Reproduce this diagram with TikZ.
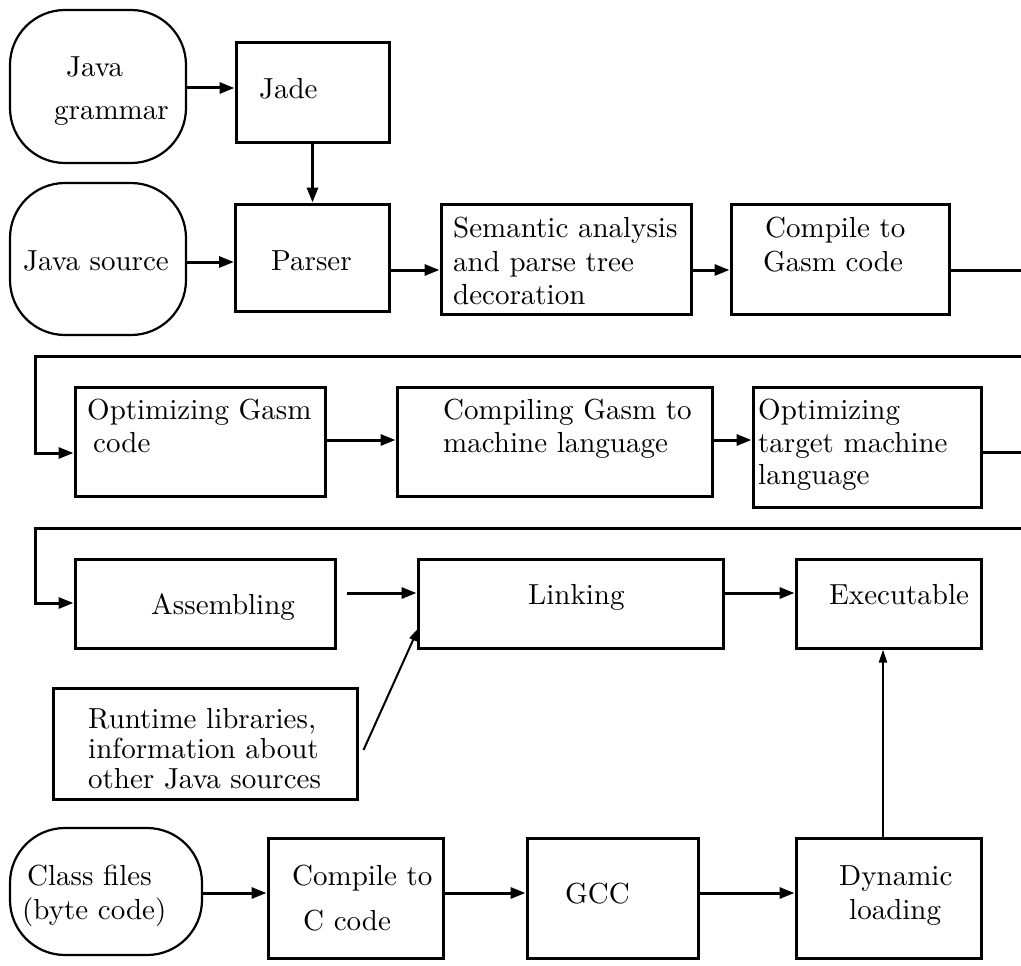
\documentclass[tikz,border=0pt]{standalone}
\usepackage{fontspec}
\setmainfont{lmroman10-regular}[Extension=.otf]
\usetikzlibrary{arrows.meta}
\begin{document}
\begin{tikzpicture}[x=1pt,y=-1pt,
  box/.style={draw, line width=3pt, inner sep=0pt},
  rbox/.style={draw, line width=2.2pt, rounded corners=55pt, inner sep=0pt},
  conn/.style={line width=3pt},
  arr/.style={line width=3pt, -{Triangle[length=15pt,width=11pt]}},
  thinarr/.style={line width=2pt, -{Triangle[length=13pt,width=8pt]}},
  txt/.style={anchor=base west, inner sep=0pt, font=\fontsize{29}{33.5}\selectfont}]
\useasboundingbox (0,0) rectangle (1021,966);
% boxes
\node[rbox, minimum width=176, minimum height=153] (jg) at (98,86.5) {};
\node[box, minimum width=153, minimum height=99] (jade) at (312.5,92.5) {};
\node[rbox, minimum width=176, minimum height=152] (js) at (98,259) {};
\node[box, minimum width=154, minimum height=107] (parser) at (312.5,257.5) {};
\node[box, minimum width=250, minimum height=110] (sem) at (566,259) {};
\node[box, minimum width=218, minimum height=110] (cgasm) at (840,259) {};
\node[box, minimum width=250, minimum height=109] (ogasm) at (200,441.5) {};
\node[box, minimum width=315, minimum height=109] (cgml) at (554.5,441.5) {};
\node[box, minimum width=228, minimum height=120] (otml) at (867,447) {};
\node[box, minimum width=260, minimum height=89] (asm) at (205,603.5) {};
\node[box, minimum width=305, minimum height=89] (link) at (570.5,603.5) {};
\node[box, minimum width=185, minimum height=89] (exe) at (888.5,603.5) {};
\node[box, minimum width=304, minimum height=111] (rt) at (205,743.5) {};
\node[rbox, minimum width=192, minimum height=127] (cf) at (106,891.5) {};
\node[box, minimum width=175, minimum height=120] (cc) at (355.5,898) {};
\node[box, minimum width=171, minimum height=120] (gcc) at (612.5,898) {};
\node[box, minimum width=185, minimum height=120] (dyn) at (888.5,898) {};
% texts
\node[txt] (t1) at (66,77) {Java};
\node[txt] (t2) at (54,119) {grammar};
\node[txt] (t3) at (259,99) {Jade};
\node[txt] (t4) at (23,270) {Java source};
\node[txt] (t5) at (271,270) {Parser};
\node[txt] (t6) at (453,237) {Semantic analysis};
\node[txt] (t7) at (453,271) {and parse tree};
\node[txt] (t8) at (453,304) {decoration};
\node[txt] (t9) at (765,237) {Compile to};
\node[txt] (t10) at (763,271) {Gasm code};
\node[txt] (t11) at (87,419) {Optimizing Gasm};
\node[txt] (t12) at (93,452) {code};
\node[txt] (t13) at (443,419) {Compiling Gasm to};
\node[txt] (t14) at (443,452) {machine language};
\node[txt] (t15) at (758,419) {Optimizing};
\node[txt] (t16) at (758,452) {target machine};
\node[txt] (t17) at (758,484) {language};
\node[txt] (t18) at (151,614) {Assembling};
\node[txt] (t19) at (528,604) {Linking};
\node[txt] (t20) at (829,604) {Executable};
\node[txt] (t21) at (88,728) {Runtime libraries,};
\node[txt] (t22) at (88,758) {information about};
\node[txt] (t23) at (88,788) {other Java sources};
\node[txt] (t24) at (27,885) {Class files};
\node[txt] (t25) at (22,919) {(byte code)};
\node[txt] (t26) at (292,885) {Compile to};
\node[txt] (t27) at (303,930) {C code};
\node[txt] (t28) at (565,903) {GCC};
\node[txt] (t29) at (839,885) {Dynamic};
\node[txt] (t30) at (849,919) {loading};
% levels
\coordinate (y88) at (0,88);
\coordinate (y262) at (0,262);
\coordinate (y270) at (0,270);
\coordinate (y440) at (0,440);
\coordinate (y452) at (0,452);
\coordinate (y453) at (0,453);
\coordinate (y593) at (0,593);
\coordinate (y603) at (0,603);
\coordinate (y893) at (0,893);
\coordinate (e1) at (1021,270);
\coordinate (e2) at (1021,356);
\coordinate (k2) at (35,356);
\coordinate (e3) at (1021,452);
\coordinate (e4) at (1021,528);
\coordinate (k4) at (35,528);
% connectors
\draw[arr] (jg.east |- y88) -- (jade.west |- y88);
\draw[arr] (jade.south) -- (parser.north);
\draw[arr] (js.east |- y262) -- (parser.west |- y262);
\draw[arr] (parser.east |- y270) -- (sem.west |- y270);
\draw[arr] (sem.east |- y270) -- (cgasm.west |- y270);
\draw[conn] (cgasm.east |- e1) -- (e1);
\draw[arr] (e2) -- (k2) |- (ogasm.west |- y453);
\draw[arr] (ogasm.east |- y440) -- (cgml.west |- y440);
\draw[arr] (cgml.east |- y440) -- (otml.west |- y440);
\draw[conn] (otml.east |- e3) -- (e3);
\draw[arr] (e4) -- (k4) |- (asm.west |- y603);
\draw[arr] ([shift={(10,-10.5)}]asm.east) -- (link.west |- y593);
\draw[arr] (link.east |- y593) -- (exe.west |- y593);
\draw[thinarr] ([shift={(5,6.5)}]rt.east) -- ([shift={(2,24.5)}]link.west);
\draw[thinarr] ([xshift=-5.5pt]dyn.north) -- ([xshift=-5.5pt]exe.south);
\draw[arr] (cf.east |- y893) -- (cc.west |- y893);
\draw[arr] (cc.east |- y893) -- (gcc.west |- y893);
\draw[arr] (gcc.east |- y893) -- (dyn.west |- y893);
\end{tikzpicture}
\end{document}
